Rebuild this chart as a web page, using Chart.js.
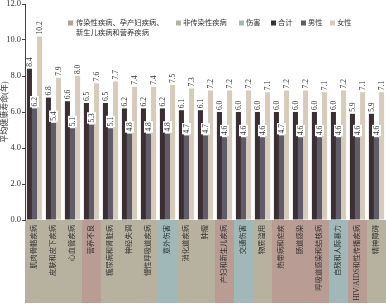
<!DOCTYPE html>
<html><head><meta charset="utf-8">
<script src="https://cdn.jsdelivr.net/npm/chart.js@4/dist/chart.umd.min.js"></script>
<style>html,body{margin:0;padding:0;background:#fff}#wrap{width:386px;height:304px;position:relative}</style>
</head><body><div id="wrap"><canvas id="c" width="386" height="304"></canvas></div>
<script>
const categories = ['肌肉骨骼疾病','皮肤和皮下疾病','心血管疾病','营养不良','糖尿病和肾脏病','神经失调','慢性呼吸道疾病','意外伤害','消化道疾病','肿瘤','产妇和新生儿疾病','交通伤害','物质滥用','热带病和疟疾','肠道感染','呼吸道感染和结核病','自残和人际暴力','HIV/AIDS和性传播疾病','精神障碍'];
const categoryGroup = [1,1,1,0,1,1,1,2,1,1,0,2,1,0,0,0,2,0,1];
const groupNames = [['传染性疾病、孕产妇疾病、','新生儿疾病和营养疾病'],['非传染性疾病'],['伤害']];
const seriesNames = ['合计','男性','女性'];
const totalValues  = [8.4,6.8,6.6,6.5,6.5,6.2,6.2,6.2,6.1,6.1,6.0,6.0,6.0,6.0,6.0,6.0,6.0,5.9,5.9];
const maleValues   = [6.2,5.4,5.1,5.3,5.1,4.8,4.8,4.8,4.7,4.7,4.6,4.6,4.6,4.7,4.6,4.6,4.6,4.6,4.6];
const femaleValues = [10.2,7.9,8.0,7.6,7.7,7.4,7.4,7.5,7.3,7.2,7.2,7.2,7.1,7.2,7.2,7.1,7.2,7.1,7.1];
const yTicks = [0,2,4,6,8,10,12];
const yTitle = '平均健康寿命(年)';

const FONT = "'Liberation Serif','Noto Sans CJK SC',serif";
const groupColors = ['#b99c93','#b7b29f','#a0b9b8'];
const seriesColors = ['#3c2f33','#615c69','#d7ccbc'];

const bandPlugin = {
  id:'bands',
  beforeDraw(chart){
    const {ctx, chartArea, scales:{x}} = chart;
    const w = (chartArea.right - chartArea.left)/categories.length;
    ctx.save();
    categories.forEach((c,i)=>{
      const cx = x.getPixelForValue(i);
      ctx.fillStyle = groupColors[categoryGroup[i]];
      ctx.fillRect(cx - w/2, chartArea.bottom, w, 303 - chartArea.bottom);
    });
    ctx.restore();
  }
};

const valueLabelPlugin = {
  id:'valueLabels',
  afterDatasetsDraw(chart){
    const ctx = chart.ctx;
    ctx.save();
    ctx.font = '7.5px ' + FONT;
    ctx.textBaseline = 'middle';
    ctx.textAlign = 'left';
    chart.data.datasets.forEach((ds,d)=>{
      const meta = chart.getDatasetMeta(d);
      meta.data.forEach((el,i)=>{
        const txt = ds.data[i].toFixed(1);
        ctx.save();
        ctx.translate(el.x, el.y - 2);
        ctx.rotate(-Math.PI/2);
        const tw = ctx.measureText(txt).width;
        if (d === 1) {
          ctx.fillStyle = '#fff';
          ctx.fillRect(-1, -4.5, tw + 2, 9);
        }
        ctx.fillStyle = '#333';
        ctx.fillText(txt, 0, 0.5);
        ctx.restore();
      });
    });
    ctx.restore();
  }
};

const legendPlugin = {
  id:'customLegend',
  afterDraw(chart){
    const ctx = chart.ctx;
    const items = [
      {text:groupNames[0], color:groupColors[0], mx:68, tx:76},
      {text:groupNames[1], color:groupColors[1], mx:176, tx:183},
      {text:groupNames[2], color:groupColors[2], mx:239, tx:246},
      {text:[seriesNames[0]], color:seriesColors[0], mx:271, tx:278},
      {text:[seriesNames[1]], color:seriesColors[1], mx:301, tx:308},
      {text:[seriesNames[2]], color:seriesColors[2], mx:330, tx:337}
    ];
    const y0 = 23;
    ctx.save();
    ctx.font = '7.3px ' + FONT;
    ctx.textBaseline = 'middle';
    ctx.textAlign = 'left';
    items.forEach(it=>{
      ctx.fillStyle = it.color;
      ctx.fillRect(it.mx, y0 - 2.5, 5, 5);
      ctx.fillStyle = '#333';
      it.text.forEach((line,k)=> ctx.fillText(line, it.tx, y0 + k*10));
    });
    ctx.restore();
  }
};

new Chart(document.getElementById('c'), {
  type:'bar',
  data:{
    labels: categories,
    datasets: seriesNames.map((name,k)=>({
      label:name,
      data:[totalValues,maleValues,femaleValues][k],
      backgroundColor: seriesColors[k],
      borderWidth:0,
      categoryPercentage:0.8,
      barPercentage:1.0
    }))
  },
  options:{
    responsive:false,
    animation:false,
    devicePixelRatio:1,
    layout:{padding:{top:4,right:0,left:0,bottom:0}},
    plugins:{legend:{display:false},tooltip:{enabled:false}},
    scales:{
      x:{
        grid:{display:false,drawTicks:false},
        border:{display:false},
        ticks:{minRotation:90,maxRotation:90,autoSkip:false,padding:5,color:'#333',font:{family:FONT,size:7.3}},
        afterFit(s){ s.height = 84; s.paddingLeft = 0; s.paddingRight = 0; }
      },
      y:{
        min:0,max:12,
        afterBuildTicks(s){ s.ticks = yTicks.map(v=>({value:v})); },
        ticks:{callback:v=>Number(v).toFixed(1),padding:1,color:'#333',font:{family:FONT,size:8.5}},
        grid:{drawOnChartArea:false,drawTicks:true,tickLength:3,color:'#444'},
        border:{display:true,color:'#444',width:1},
        title:{display:true,text:yTitle,color:'#333',padding:0,font:{family:FONT,size:8}},
        afterFit(s){ s.width = 25; s.paddingTop = 0; s.paddingBottom = 0; }
      }
    }
  },
  plugins:[bandPlugin,valueLabelPlugin,legendPlugin]
});
</script></body></html>
